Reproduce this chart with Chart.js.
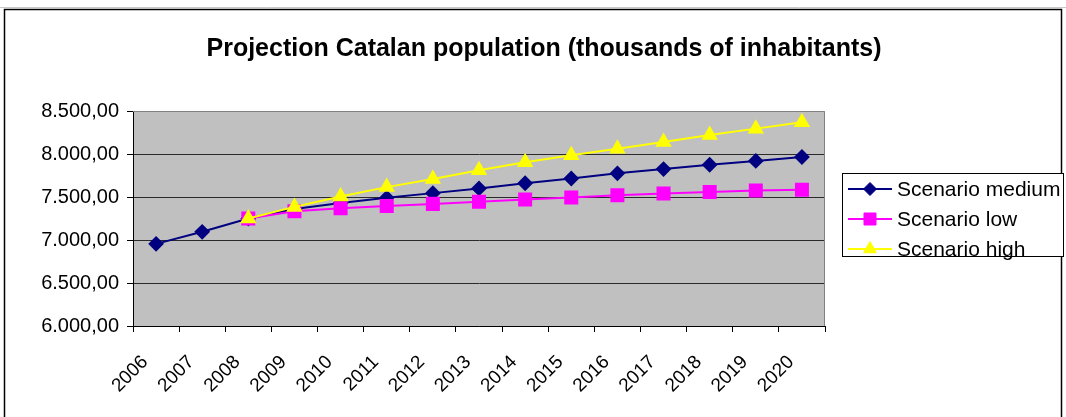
<!DOCTYPE html>
<html>
<head>
<meta charset="utf-8">
<script src="https://cdn.jsdelivr.net/npm/chart.js@4.4.0/dist/chart.umd.min.js"></script>
<style>
  body { margin: 0; background: #fff; }
  #wrap { width: 1066px; height: 417px; }
</style>
</head>
<body>
<div id="wrap"><canvas id="mycanvas" width="1066" height="417"></canvas></div>
<script>
var titleText = 'Projection Catalan population (thousands of inhabitants)';
var years = ['2006', '2007', '2008', '2009', '2010', '2011', '2012', '2013', '2014', '2015', '2016', '2017', '2018', '2019', '2020'];
var medium = [6955, 7095, 7250, 7360, 7430, 7490, 7545, 7600, 7660, 7715, 7775, 7825, 7875, 7920, 7965];
var low = [null, null, 7250, 7335, 7370, 7395, 7420, 7445, 7470, 7495, 7520, 7540, 7558, 7575, 7585];
var high = [null, null, 7250, 7385, 7505, 7615, 7710, 7810, 7905, 7985, 8060, 8140, 8220, 8295, 8370];

function fmt(v) {
	var s = Math.round(v).toString().replace(/\B(?=(\d{3})+(?!\d))/g, '.');
	return s + ',00';
}

// background, frame, title and legend
var excelLook = {
	id: 'excelLook',
	beforeDraw: function(chart) {
		var ctx = chart.ctx, a = chart.chartArea;
		ctx.save();
		ctx.fillStyle = '#fff';
		ctx.fillRect(0, 0, chart.width, chart.height);
		ctx.strokeStyle = '#c8c8c8';
		ctx.lineWidth = 1;
		ctx.beginPath(); ctx.moveTo(0, 7.5); ctx.lineTo(chart.width, 7.5); ctx.stroke();
		ctx.strokeStyle = '#000';
		ctx.lineWidth = 1.5;
		ctx.strokeRect(4.5, 9.5, 1057, 500);
		ctx.fillStyle = '#c0c0c0';
		ctx.fillRect(a.left, a.top, a.right - a.left, a.bottom - a.top);
		ctx.restore();
	},
	afterDraw: function(chart) {
		var ctx = chart.ctx, a = chart.chartArea;
		ctx.save();
		ctx.strokeStyle = '#808080';
		ctx.lineWidth = 1;
		ctx.beginPath();
		ctx.moveTo(a.left, a.top + 0.5);
		ctx.lineTo(a.right - 0.5, a.top + 0.5);
		ctx.lineTo(a.right - 0.5, a.bottom);
		ctx.stroke();

		ctx.fillStyle = '#000';
		ctx.font = 'bold 25px "Liberation Sans", Arial, sans-serif';
		ctx.textAlign = 'center';
		ctx.textBaseline = 'middle';
		ctx.fillText(titleText, 544, 49);

		// legend
		ctx.fillStyle = '#fff';
		ctx.fillRect(842, 173, 221, 83);
		ctx.strokeStyle = '#000';
		ctx.lineWidth = 1;
		ctx.strokeRect(842.5, 173.5, 221, 83);
		ctx.font = '21px "Liberation Sans", Arial, sans-serif';
		ctx.textAlign = 'left';
		var rows = [189, 219, 249];
		chart.data.datasets.forEach(function(ds, i) {
			var y = rows[i];
			ctx.strokeStyle = ds.borderColor;
			ctx.lineWidth = 2;
			ctx.beginPath(); ctx.moveTo(848, y); ctx.lineTo(892, y); ctx.stroke();
			ctx.fillStyle = ds.pointBackgroundColor;
			ctx.strokeStyle = ds.pointBorderColor;
			ctx.lineWidth = 1;
			Chart.helpers.drawPoint(ctx, {pointStyle: ds.pointStyle, radius: ds.pointRadius, rotation: 0, borderWidth: 1}, 870, y);
			ctx.fillStyle = '#000';
			ctx.fillText(ds.label, 897, y + 1);
		});
		ctx.restore();
	}
};

var chartdata = {
	labels: years,
	datasets: [
		{
			label: 'Scenario medium',
			data: medium,
			borderColor: '#000080',
			backgroundColor: '#000080',
			pointBackgroundColor: '#000080',
			pointBorderColor: '#000080',
			pointStyle: 'rectRot',
			pointRadius: 6.5,
			borderWidth: 2,
			order: 3
		}, {
			label: 'Scenario low',
			data: low,
			borderColor: '#ff00ff',
			backgroundColor: '#ff00ff',
			pointBackgroundColor: '#ff00ff',
			pointBorderColor: '#ff00ff',
			pointStyle: 'rect',
			pointRadius: 8.5,
			borderWidth: 2,
			order: 2
		}, {
			label: 'Scenario high',
			data: high,
			borderColor: '#ffff00',
			backgroundColor: '#ffff00',
			pointBackgroundColor: '#ffff00',
			pointBorderColor: '#ffff00',
			pointStyle: 'triangle',
			pointRadius: 7.5,
			borderWidth: 2,
			order: 1
		}
	]
};

var ctx = document.getElementById('mycanvas');
var lineGraph = new Chart(ctx, {
	type: 'line',
	data: chartdata,
	plugins: [excelLook],
	options: {
		responsive: false,
		animation: false,
		events: [],
		layout: { padding: { top: 111, right: 241, left: 0, bottom: 0 } },
		elements: { line: { tension: 0 }, point: { borderWidth: 1 } },
		plugins: { legend: { display: false }, title: { display: false }, tooltip: { enabled: false } },
		scales: {
			x: {
				offset: true,
				afterFit: function(s) { s.height = 91; },
				border: { color: '#000', width: 1 },
				grid: { offset: true, drawOnChartArea: false, drawTicks: true, tickLength: 6, tickColor: '#000' },
				ticks: {
					autoSkip: false, minRotation: 45, maxRotation: 45, padding: 19, labelOffset: -11, color: '#000',
					font: { family: '"Liberation Sans", Arial, sans-serif', size: 19 }
				}
			},
			y: {
				min: 6000, max: 8500,
				afterFit: function(s) { s.width = 133; },
				border: { color: '#000', width: 1 },
				grid: {
					color: function(c) { return c.tick && c.tick.value === 8500 ? 'rgba(0,0,0,0)' : '#2a2a2a'; },
					tickLength: 6, tickColor: '#000'
				},
				ticks: {
					stepSize: 500, padding: 8, color: '#000',
					font: { family: '"Liberation Sans", Arial, sans-serif', size: 20 },
					callback: function(v) { return fmt(v); }
				}
			}
		}
	}
});
</script>
</body>
</html>
